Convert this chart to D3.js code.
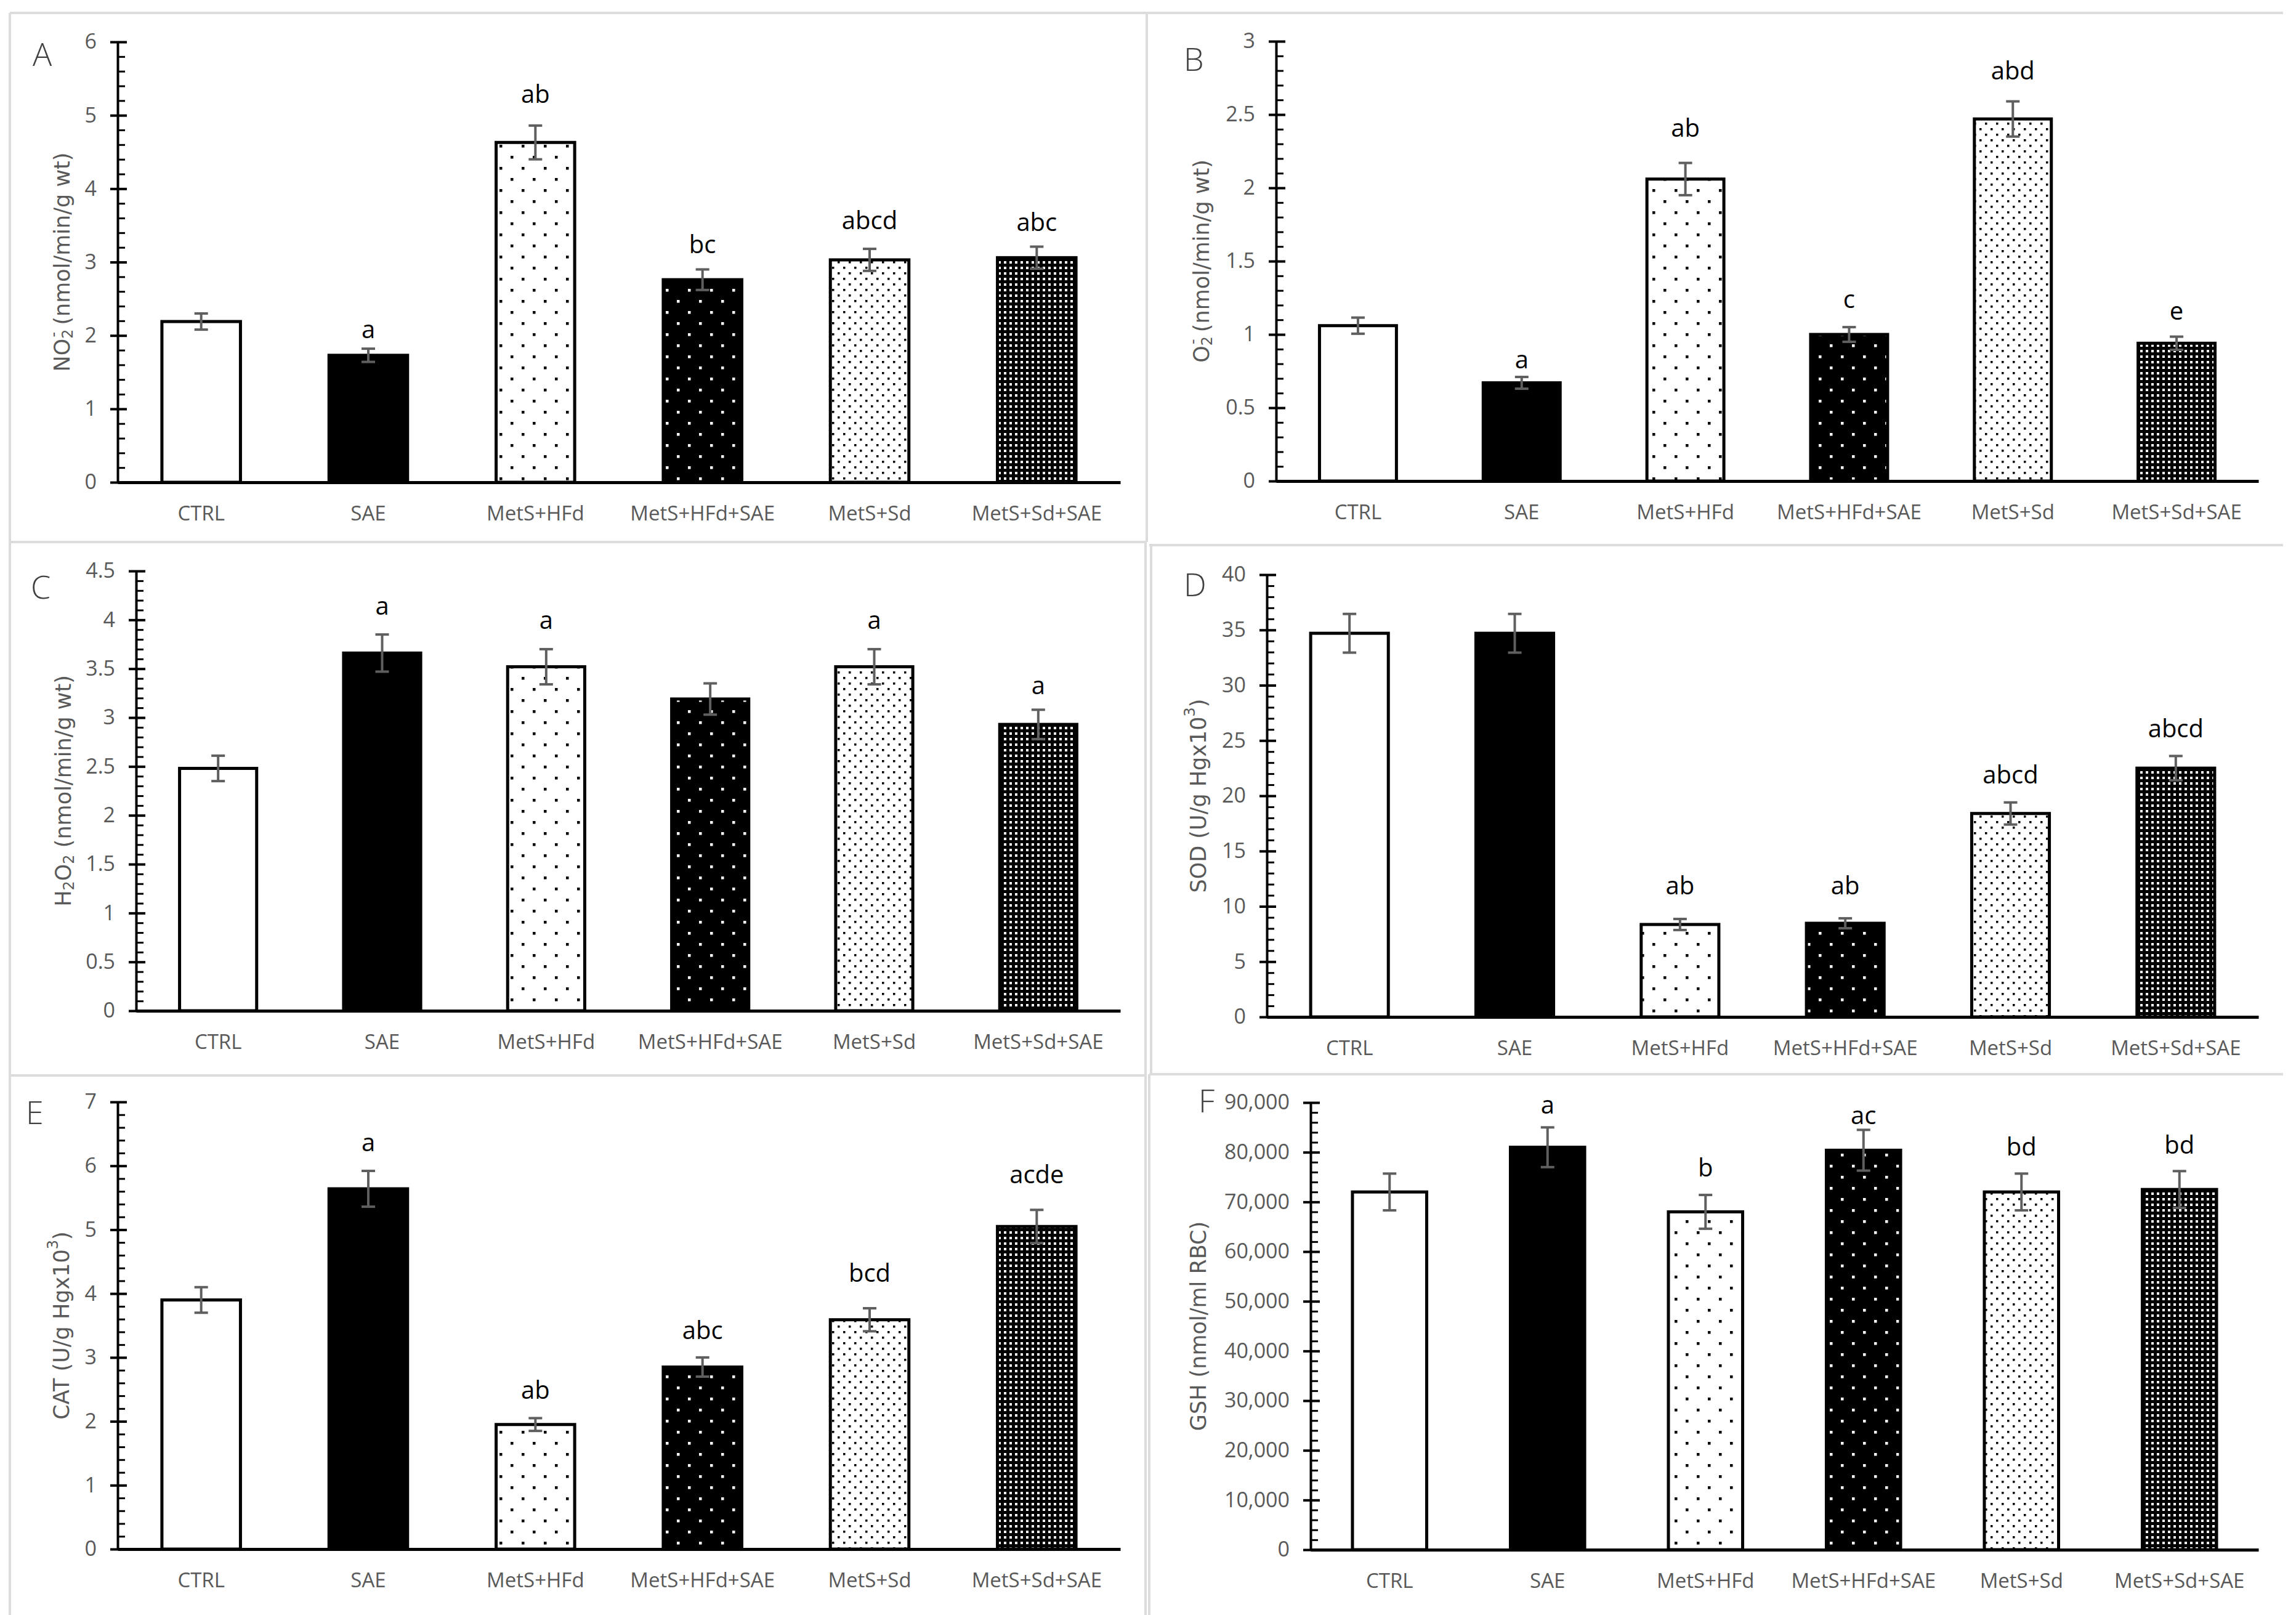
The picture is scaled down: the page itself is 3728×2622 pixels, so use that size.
<!DOCTYPE html>
<html><head><meta charset="utf-8">
<script src="https://cdn.jsdelivr.net/npm/d3@7"></script>
<style>body{margin:0;background:#fff}</style>
</head><body><svg id="c" width="3728" height="2622"></svg>
<script>
// ---------------- DATA ----------------
const categories = ["CTRL", "SAE", "MetS+HFd", "MetS+HFd+SAE", "MetS+Sd", "MetS+Sd+SAE"];

const valuesA = [2.19, 1.73, 4.63, 2.76, 3.03, 3.06];
const errorsA = [0.11, 0.09, 0.23, 0.14, 0.15, 0.15];
const lettersA = ["", "a", "ab", "bc", "abcd", "abc"];
const letterPosA = [null, 1.96, 5.17, 3.12, 3.45, 3.42];

const valuesB = [1.06, 0.67, 2.06, 1.00, 2.47, 0.94];
const errorsB = [0.055, 0.04, 0.11, 0.05, 0.12, 0.045];
const lettersB = ["", "a", "ab", "c", "abd", "e"];
const letterPosB = [null, 0.77, 2.35, 1.18, 2.74, 1.10];

const valuesC = [2.48, 3.66, 3.52, 3.19, 3.52, 2.93];
const errorsC = [0.13, 0.19, 0.18, 0.16, 0.18, 0.15];
const lettersC = ["", "a", "a", "", "a", "a"];
const letterPosC = [null, 4.05, 3.91, null, 3.91, 3.24];

const valuesD = [34.7, 34.7, 8.36, 8.47, 18.4, 22.5];
const errorsD = [1.75, 1.75, 0.5, 0.45, 1.0, 1.1];
const lettersD = ["", "", "ab", "ab", "abcd", "abcd"];
const letterPosD = [null, null, 11.1, 11.1, 21.1, 25.3];

const valuesE = [3.90, 5.64, 1.95, 2.85, 3.59, 5.05];
const errorsE = [0.20, 0.28, 0.10, 0.15, 0.18, 0.26];
const lettersE = ["", "a", "ab", "abc", "bcd", "acde"];
const letterPosE = [null, 6.23, 2.35, 3.29, 4.18, 5.73];

const valuesF = [72000, 81000, 68000, 80400, 72000, 72500];
const errorsF = [3700, 4000, 3400, 4100, 3700, 3700];
const lettersF = ["", "a", "b", "ac", "bd", "bd"];
const letterPosF = [null, 87800, 75100, 85700, 79300, 79700];

// axis settings: [max, major step, minor step]
const axisA = [6, 1, 0.2];
const axisB = [3, 0.5, 0.1];
const axisC = [4.5, 0.5, 0.1];
const axisD = [40, 5, 1];
const axisE = [7, 1, 0.2];
const axisF = [90000, 10000, 2000];

const panelNames = ["A", "B", "C", "D", "E", "F"];

// ---------------- LAYOUT ----------------
const W = 3728, H = 2622;
const layout = {
  A: {axisX: 191, top: 68, zero: 783, xEnd: 1819, titleX: 101, labelX: 53, labelY: 107},
  B: {axisX: 2072, top: 67, zero: 781, xEnd: 3667, titleX: 1951, labelX: 1922, labelY: 115},
  C: {axisX: 221, top: 927, zero: 1641, xEnd: 1819, titleX: 103, labelX: 50, labelY: 972},
  D: {axisX: 2057, top: 933, zero: 1651, xEnd: 3667, titleX: 1946, labelX: 1922, labelY: 968},
  E: {axisX: 191, top: 1789, zero: 2515, xEnd: 1819, titleX: 100, labelX: 42, labelY: 1825},
  F: {axisX: 2128, top: 1790, zero: 2516, xEnd: 3667, titleX: 1946, labelX: 1946, labelY: 1806}
};
const borderLines = [
  [16, 21, 3707, 21], [16, 880, 1862, 880], [1866, 885, 3707, 885],
  [16, 1746, 1860, 1746], [1866, 1744, 3707, 1744],
  [16, 21, 16, 2622], [1862, 21, 1862, 880], [1860, 880, 1860, 1746],
  [1869, 885, 1869, 1744], [1860, 1746, 1860, 2622], [1866, 1744, 1866, 2622]
];

const panelData = {
  A: {values: valuesA, errors: errorsA, letters: lettersA, letterPos: letterPosA, axis: axisA, fmt: d3.format("")},
  B: {values: valuesB, errors: errorsB, letters: lettersB, letterPos: letterPosB, axis: axisB, fmt: d3.format("")},
  C: {values: valuesC, errors: errorsC, letters: lettersC, letterPos: letterPosC, axis: axisC, fmt: d3.format("")},
  D: {values: valuesD, errors: errorsD, letters: lettersD, letterPos: letterPosD, axis: axisD, fmt: d3.format("")},
  E: {values: valuesE, errors: errorsE, letters: lettersE, letterPos: letterPosE, axis: axisE, fmt: d3.format("")},
  F: {values: valuesF, errors: errorsF, letters: lettersF, letterPos: letterPosF, axis: axisF, fmt: d3.format(",")}
};

// ---------------- DRAW ----------------
const svg = d3.select("#c");
svg.append("rect").attr("width", W).attr("height", H).attr("fill", "#fff");
const defs = svg.append("defs");

function dotPattern(id, size, dot, bg, fg, stagger) {
  const p = defs.append("pattern").attr("id", id).attr("patternUnits", "userSpaceOnUse")
    .attr("width", size).attr("height", size);
  p.append("rect").attr("width", size).attr("height", size).attr("fill", bg);
  const pts = stagger ? [[0, 0], [size / 2, size / 2]] : [[0, 0]];
  pts.forEach(([x, y]) => p.append("rect").attr("x", x + 1).attr("y", y + 1)
    .attr("width", dot).attr("height", dot).attr("fill", fg));
}
dotPattern("pHFd", 36, 4.5, "#fff", "#000", true);
dotPattern("pHFdSAE", 36, 4.5, "#000", "#fff", true);
dotPattern("pSd", 18, 3.5, "#fff", "#000", true);
dotPattern("pSdSAE", 9, 4, "#000", "#fff", false);
const fills = ["#fff", "#000", "url(#pHFd)", "url(#pHFdSAE)", "url(#pSd)", "url(#pSdSAE)"];

svg.append("g").selectAll("line").data(borderLines).join("line")
  .attr("x1", d => d[0]).attr("y1", d => d[1]).attr("x2", d => d[2]).attr("y2", d => d[3])
  .attr("stroke", "#dcdcdc").attr("stroke-width", 4);

const titles = {
  A: [["NO", 0], ["2", -1], ["-", 1], [" (nmol/min/g wt)", 0]],
  B: [["O", 0], ["2", -1], ["-", 1], [" (nmol/min/g wt)", 0]],
  C: [["H", 0], ["2", -1], ["O", 0], ["2", -1], [" (nmol/min/g wt)", 0]],
  D: [["SOD (U/g Hgx10", 0], ["3", 1], [")", 0]],
  E: [["CAT (U/g Hgx10", 0], ["3", 1], [")", 0]],
  F: [["GSH (nmol/ml RBC)", 0]]
};

const labelFont = "'Open Sans', 'DejaVu Sans', sans-serif";
const grey = "#595959";

panelNames.forEach(name => {
  const L = layout[name], P = panelData[name];
  const [max, major, minor] = P.axis;
  const g = svg.append("g");
  const x = d3.scaleBand().domain(categories).range([L.axisX, L.xEnd])
    .paddingInner(0.53).paddingOuter(0.265);
  const y = d3.scaleLinear().domain([0, max]).range([L.zero, L.top]);
  const majors = d3.range(0, Math.round(max / major) + 1).map(i => +(i * major).toFixed(6));
  const minors = d3.range(0, Math.round(max / minor) + 1).map(i => +(i * minor).toFixed(6));
  const rows = categories.map((c, i) => ({c, v: P.values[i], e: P.errors[i], l: P.letters[i], lp: P.letterPos[i], f: fills[i]}));

  // bars
  g.selectAll("rect.bar").data(rows).join("rect").attr("class", "bar")
    .attr("x", d => x(d.c)).attr("width", x.bandwidth())
    .attr("y", d => y(d.v)).attr("height", d => y(0) - y(d.v))
    .attr("fill", d => d.f).attr("stroke", "#000").attr("stroke-width", 5);

  // x axis
  const xa = g.append("g").attr("transform", `translate(0,${L.zero})`)
    .call(d3.axisBottom(x).tickSize(0).tickSizeOuter(0).tickPadding(0));
  xa.select(".domain").attr("stroke", "#000").attr("stroke-width", 5);
  xa.selectAll("text").attr("y", 50).attr("dy", "0.35em")
    .attr("font-family", labelFont).attr("font-size", 33).attr("fill", grey);

  // y axis (left, with labels)
  const ya = g.append("g").attr("transform", `translate(${L.axisX},0)`)
    .call(d3.axisLeft(y).tickValues(majors).tickSizeInner(12).tickSizeOuter(0).tickPadding(22).tickFormat(P.fmt));
  ya.select(".domain").attr("stroke", "#000").attr("stroke-width", 4);
  ya.selectAll(".tick line").attr("stroke", "#000").attr("stroke-width", 4);
  ya.selectAll("text").attr("font-family", labelFont).attr("font-size", 34).attr("fill", grey);
  // inner ticks
  const yi = g.append("g").attr("transform", `translate(${L.axisX},0)`)
    .call(d3.axisRight(y).tickValues(minors.filter(v => !majors.includes(v))).tickSize(12).tickSizeOuter(0).tickFormat(""));
  yi.select(".domain").remove();
  yi.selectAll(".tick line").attr("stroke", "#000").attr("stroke-width", 3);
  const ym = g.append("g").attr("transform", `translate(${L.axisX},0)`)
    .call(d3.axisRight(y).tickValues(majors).tickSize(15).tickSizeOuter(0).tickFormat(""));
  ym.select(".domain").remove();
  ym.selectAll(".tick line").attr("stroke", "#000").attr("stroke-width", 4);

  // error bars
  const eg = g.append("g").attr("stroke", "#5f5f5f").attr("stroke-width", 4);
  rows.forEach(d => {
    const cx = x(d.c) + x.bandwidth() / 2;
    eg.append("line").attr("x1", cx).attr("x2", cx).attr("y1", y(d.v - d.e)).attr("y2", y(d.v + d.e));
    eg.append("line").attr("x1", cx - 11).attr("x2", cx + 11).attr("y1", y(d.v + d.e)).attr("y2", y(d.v + d.e));
    eg.append("line").attr("x1", cx - 11).attr("x2", cx + 11).attr("y1", y(d.v - d.e)).attr("y2", y(d.v - d.e));
  });

  // significance letters
  g.selectAll("text.sig").data(rows.filter(d => d.l)).join("text").attr("class", "sig")
    .attr("x", d => x(d.c) + x.bandwidth() / 2).attr("y", d => y(d.lp))
    .attr("text-anchor", "middle").attr("font-family", labelFont).attr("font-size", 40)
    .attr("fill", "#000").text(d => d.l);

  // y title
  const ty = (L.top + L.zero) / 2;
  const t = g.append("text").attr("transform", `translate(${L.titleX},${ty}) rotate(-90)`)
    .attr("text-anchor", "middle").attr("dominant-baseline", "central")
    .attr("font-family", "'DejaVu Sans', sans-serif").attr("font-size", 35).attr("fill", grey);
  let prevShift = 0;
  titles[name].forEach(([s, shift], i) => {
    const sp = t.append("tspan").text(s);
    let dy = 0;
    if (shift === -1) { sp.attr("font-size", 24); dy = 9 - prevShift; }
    else if (shift === 1) { sp.attr("font-size", 24); dy = -14 - prevShift; }
    else { dy = -prevShift; }
    sp.attr("dy", dy);
    if (shift === 1 && i > 0 && titles[name][i - 1][1] === -1) sp.attr("dx", -13);
    prevShift = shift === -1 ? 9 : shift === 1 ? -14 : 0;
  });

  // panel label
  g.append("text").attr("x", L.labelX).attr("y", L.labelY)
    .attr("font-family", labelFont).attr("font-weight", 300).attr("font-size", 52)
    .attr("fill", "#404040").text(name);
});
</script>
</body></html>
